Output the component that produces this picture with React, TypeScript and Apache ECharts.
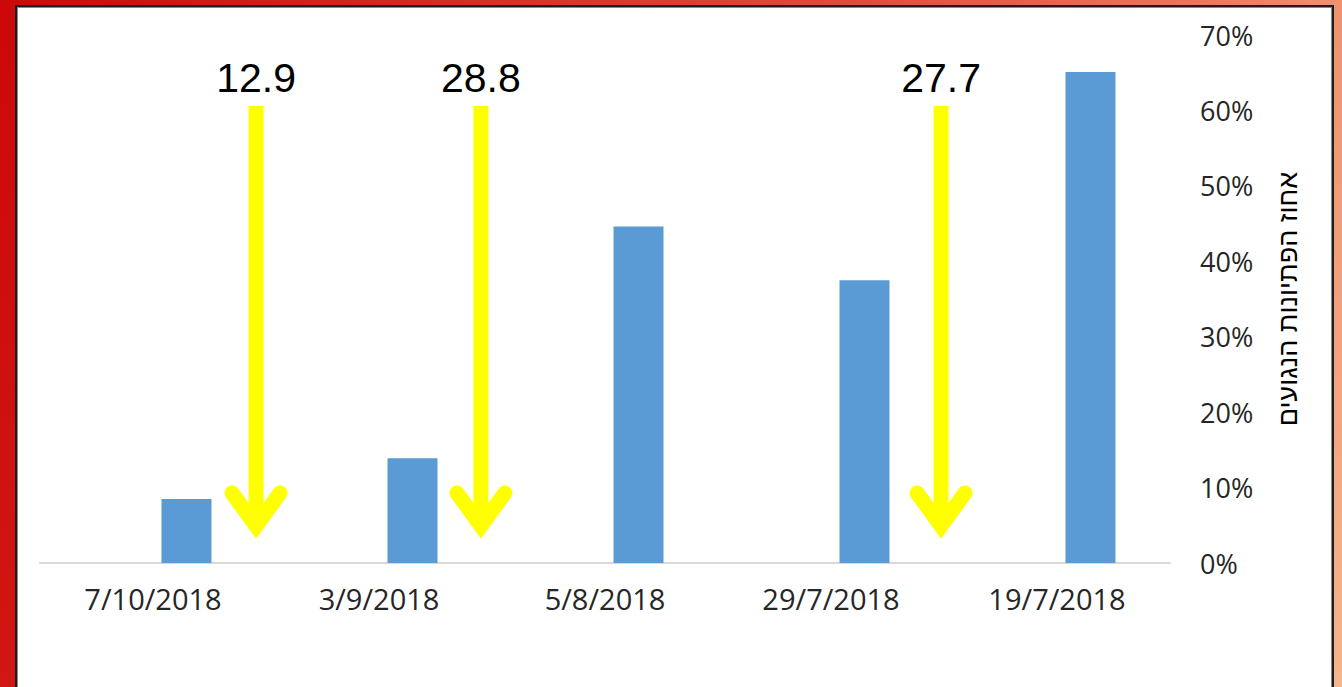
import React, { useEffect, useRef } from 'react';
import * as echarts from 'echarts';

// ---- data ----
const categories: string[] = ['7/10/2018', '3/9/2018', '5/8/2018', '29/7/2018', '19/7/2018'];
const infectedShare: number[] = [8.5, 13.9, 44.6, 37.5, 65.1];
const emptyFirstSeries: (number | null)[] = [null, null, null, null, null];
const yAxisTitle = 'אחוז הפתיונות הנגועים';
const arrowLabels: string[] = ['12.9', '28.8', '27.7'];
const arrowAfterCategory: number[] = [0, 1, 3];
const arrowFraction: number[] = [0.456, 0.451, 0.487];

const YELLOW = '#FFFF00';

export default function App() {
  const ref = useRef<HTMLDivElement>(null);

  useEffect(() => {
    if (!ref.current) return;
    const chart = echarts.init(ref.current, undefined, { renderer: 'svg' });
    chart.setOption({
      animation: false,
      backgroundColor: 'transparent',
      grid: { left: 40, right: 172, top: 35, bottom: 124 },
      xAxis: {
        type: 'category',
        data: categories,
        axisLine: { show: true, lineStyle: { color: '#d9d9d9', width: 2 } },
        axisTick: { show: false },
        axisLabel: {
          color: '#262626',
          fontSize: 29,
          fontFamily: 'Open Sans',
          margin: 21,
        },
      },
      yAxis: {
        type: 'value',
        position: 'right',
        min: 0,
        max: 70,
        interval: 10,
        axisLine: { show: false },
        axisTick: { show: false },
        splitLine: { show: false },
        axisLabel: {
          formatter: '{value}%',
          color: '#262626',
          fontSize: 27,
          fontFamily: 'Open Sans',
          margin: 30,
        },
        name: yAxisTitle,
        nameLocation: 'middle',
        nameRotate: 90,
        nameGap: 104,
        nameTextStyle: {
          fontSize: 27,
          fontFamily: 'Liberation Sans, DejaVu Sans',
          color: '#000',
        },
      },
      series: [
        {
          type: 'bar',
          data: emptyFirstSeries,
          barWidth: 50,
          barGap: '34%',
          itemStyle: { color: '#5B9BD5' },
        },
        {
          type: 'bar',
          data: infectedShare,
          barWidth: 50,
          barGap: '34%',
          itemStyle: { color: '#5B9BD5' },
        },
      ],
    });

    const yTop = 106;
    const yArm = 493;
    const yTip = 526;
    const elements: any[] = [];
    arrowLabels.forEach((label, k) => {
      const i = arrowAfterCategory[k];
      const c0 = chart.convertToPixel({ xAxisIndex: 0 }, i) as number;
      const c1 = chart.convertToPixel({ xAxisIndex: 0 }, i + 1) as number;
      const x = c0 + (c1 - c0) * arrowFraction[k];
      elements.push({
        type: 'line',
        shape: { x1: x, y1: yTop, x2: x, y2: yTip },
        style: { stroke: YELLOW, lineWidth: 15, lineCap: 'butt' },
        z: 10,
      });
      elements.push({
        type: 'polyline',
        shape: { points: [[x - 24, yArm], [x, yTip], [x + 24, yArm]] },
        style: { stroke: YELLOW, lineWidth: 15, lineCap: 'round', lineJoin: 'miter', fill: 'none' },
        z: 10,
      });
      elements.push({
        type: 'text',
        x: x,
        y: 78,
        style: {
          text: label,
          fill: '#000',
          font: '41px "Liberation Sans", Arial, sans-serif',
          textAlign: 'center',
          textVerticalAlign: 'middle',
        },
        z: 10,
      });
    });
    chart.setOption({ graphic: { elements } });

    return () => chart.dispose();
  }, []);

  return (
    <div
      style={{
        position: 'fixed',
        left: 0,
        top: 0,
        width: 1342,
        height: 687,
        background: 'linear-gradient(105deg, #cc0808 0%, #d82c22 30%, #e04a38 55%, #ec7a5c 80%, #f5b58c 100%)',
        overflow: 'hidden',
      }}
    >
      <div
        style={{
          position: 'absolute',
          left: 15,
          top: 5,
          width: 1319,
          height: 720,
          background: '#fff',
          border: '2px solid #1e1e1e',
          boxShadow: 'inset 1px 1px 0 #888, inset -1px 0 0 #888',
          boxSizing: 'border-box',
        }}
      />
      <div ref={ref} style={{ position: 'absolute', left: 0, top: 0, width: 1342, height: 687 }} />
    </div>
  );
}
